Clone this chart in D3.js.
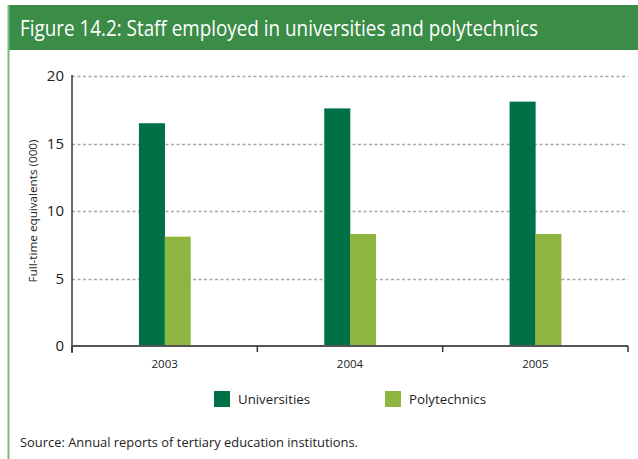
<!DOCTYPE html>
<html><head><meta charset="utf-8">
<script src="https://cdn.jsdelivr.net/npm/d3@7"></script>
<style>body{margin:0;background:#fff}svg{display:block}</style>
</head><body>
<svg id="c" width="638" height="459"></svg>
<script>
const years = ["2003","2004","2005"];
const seriesNames = ["Universities","Polytechnics"];
const universities = [16.5, 17.6, 18.1];
const polytechnics = [8.1, 8.3, 8.3];
const yTicks = [0,5,10,15,20];
const colors = ["#007046","#8db53f"];

const svg = d3.select("#c");
const W=638,H=459;
const x = d3.scaleBand().domain(years).range([72,628]).paddingInner(0).paddingOuter(0);
const y = d3.scaleLinear().domain([0,20]).range([346,76]);
const xs = d3.scaleBand().domain(seriesNames).range([0,51.5]);
const data = years.map((yr,i)=>({year:yr, values:[universities[i],polytechnics[i]]}));
const font = "'Open Sans',sans-serif";

// header
svg.append("rect").attr("x",8).attr("y",5).attr("width",W-8).attr("height",45).attr("fill","#3b8c47");
svg.append("line").attr("x1",8.5).attr("x2",8.5).attr("y1",5).attr("y2",H).attr("stroke","#7cb97e").attr("stroke-width",2);
svg.append("text").attr("x",20).attr("y",36).attr("fill","#fff").attr("font-family",font).attr("font-size",21)
  .attr("textLength",518).attr("lengthAdjust","spacingAndGlyphs")
  .text("Figure 14.2: Staff employed in universities and polytechnics");

// gridlines
svg.append("g").selectAll("line").data(yTicks.filter(d=>d>0)).join("line")
  .attr("x1",72).attr("x2",628).attr("y1",d=>Math.round(y(d))+0.5).attr("y2",d=>Math.round(y(d))+0.5)
  .attr("stroke","#a8a8a8").attr("stroke-width",1.3).attr("stroke-dasharray","3,2.5");

// bars
const g = svg.append("g").selectAll("g").data(data).join("g")
  .attr("transform",d=>`translate(${x(d.year)+x.bandwidth()/2-25.75},0)`);
g.selectAll("rect").data(d=>d.values.map((v,i)=>({v,i}))).join("rect")
  .attr("x",d=>xs(seriesNames[d.i])).attr("width",xs.bandwidth()+0.3)
  .attr("y",d=>y(d.v)).attr("height",d=>y(0)-y(d.v)).attr("fill",d=>colors[d.i]);

// y axis
const ya = svg.append("g").attr("transform","translate(72,0)")
  .call(d3.axisLeft(y).tickValues(yTicks).tickSize(0).tickPadding(8));
ya.select(".domain").remove();
ya.append("line").attr("x1",0).attr("x2",0).attr("y1",75).attr("y2",353).attr("stroke","#333").attr("stroke-width",1.5);
ya.selectAll("text").attr("font-family",font).attr("font-size",15).attr("fill","#222");

// x axis
const xa = svg.append("g").attr("transform","translate(0,346)")
  .call(d3.axisBottom(x).tickSize(0).tickPadding(14));
xa.select(".domain").remove();
xa.append("line").attr("x1",72).attr("x2",628).attr("y1",0).attr("y2",0).attr("stroke","#555").attr("stroke-width",1.8);
xa.selectAll(".bt").data([72].concat(years.map(yr=>x(yr)+x.bandwidth()))).join("line")
  .attr("x1",d=>d).attr("x2",d=>d).attr("y1",0).attr("y2",6).attr("stroke","#333").attr("stroke-width",1.5);
xa.selectAll("text").attr("font-family",font).attr("font-size",11.5).attr("fill","#222");

// y title
svg.append("text").attr("transform","translate(37,211) rotate(-90)").attr("text-anchor","middle")
  .attr("font-family",font).attr("font-size",11.5).attr("fill","#222")
  .attr("textLength",143).attr("lengthAdjust","spacingAndGlyphs").text("Full-time equivalents (000)");

// legend
const leg = svg.append("g").selectAll("g").data(seriesNames).join("g")
  .attr("transform",(d,i)=>`translate(${[214,385][i]},391)`);
leg.append("rect").attr("width",16).attr("height",16).attr("fill",(d,i)=>colors[i]);
leg.append("text").attr("x",24).attr("y",13).attr("font-family",font).attr("font-size",13.5).attr("fill","#222")
  .attr("textLength",(d,i)=>[72,77][i]).attr("lengthAdjust","spacingAndGlyphs").text(d=>d);

// source
svg.append("text").attr("x",20).attr("y",447).attr("font-family",font).attr("font-size",13.5).attr("fill","#222")
  .attr("textLength",338).attr("lengthAdjust","spacingAndGlyphs")
  .text("Source: Annual reports of tertiary education institutions.");
</script>
</body></html>
